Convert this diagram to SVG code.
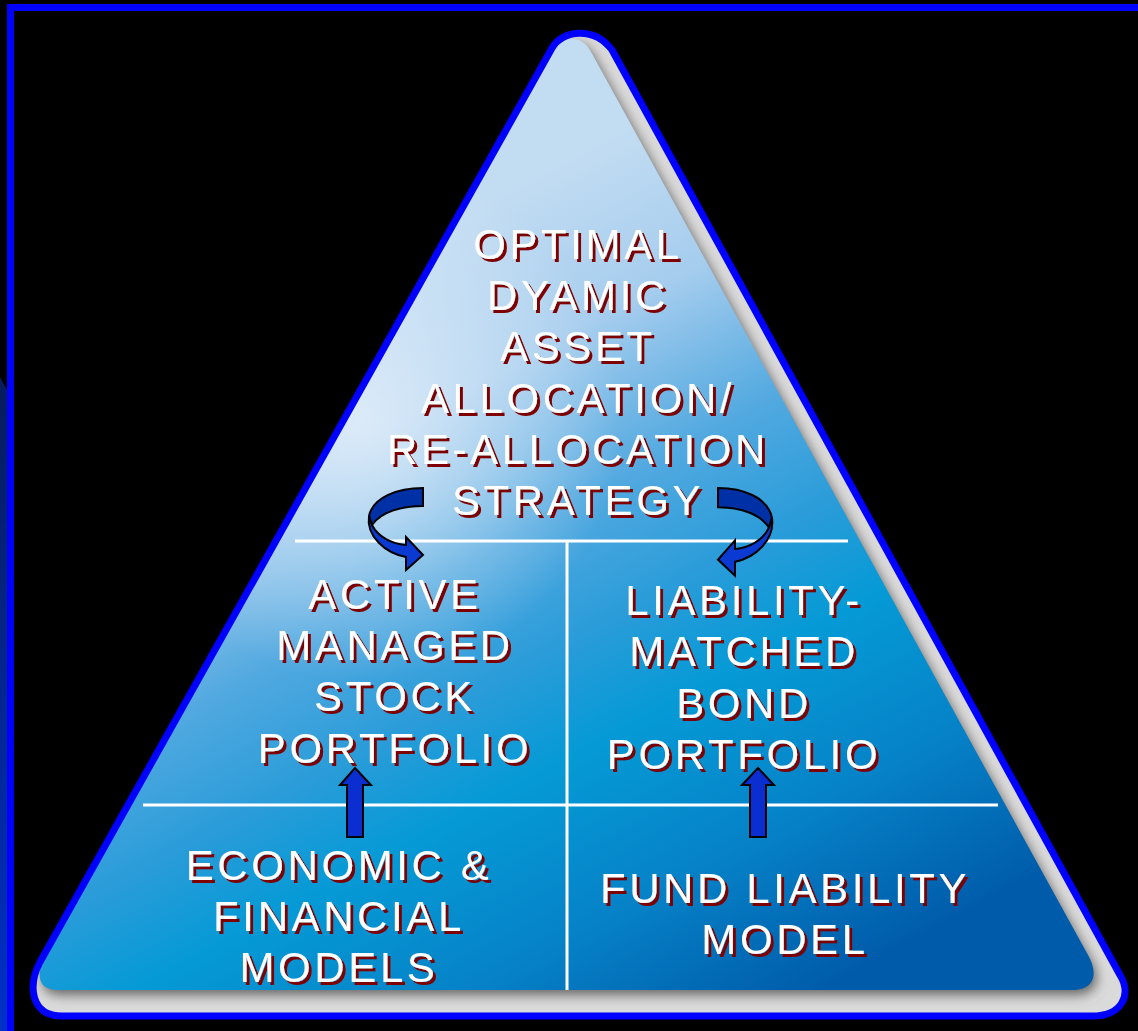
<svg xmlns="http://www.w3.org/2000/svg" width="1138" height="1031" viewBox="0 0 1138 1031">
  <defs>
    <style>
      .label { font-family: "Liberation Sans", Arial, sans-serif; font-size: 42px; letter-spacing: 3.6px; fill: #ffffff; text-anchor: middle; filter: url(#drop); }
      .divider { stroke: #ffffff; stroke-width: 3; fill: none; }
      .arrow { stroke: #000000; stroke-width: 2; stroke-linejoin: miter; }
    </style>
    <!-- dark red offset shadow behind the white lettering -->
    <filter id="drop" x="-10%" y="-20%" width="120%" height="150%">
      <feOffset in="SourceAlpha" dx="2.6" dy="2.6" result="off"/>
      <feFlood flood-color="#7e0000"/>
      <feComposite in2="off" operator="in" result="shadow"/>
      <feMerge>
        <feMergeNode in="shadow"/>
        <feMergeNode in="SourceGraphic"/>
      </feMerge>
    </filter>
    <filter id="soft" x="-5%" y="-5%" width="110%" height="110%">
      <feGaussianBlur stdDeviation="6"/>
    </filter>
    <linearGradient id="face" gradientUnits="userSpaceOnUse" x1="400" y1="250" x2="800" y2="1000">
      <stop offset="0" stop-color="#c2dcf2"/>
      <stop offset="0.18" stop-color="#a6cdee"/>
      <stop offset="0.36" stop-color="#52a9e0"/>
      <stop offset="0.5" stop-color="#2a9cd9"/>
      <stop offset="0.62" stop-color="#059ad6"/>
      <stop offset="0.8" stop-color="#0683c8"/>
      <stop offset="1" stop-color="#005cab"/>
    </linearGradient>
    <linearGradient id="edgeStrip" x1="0" y1="0" x2="0" y2="1">
      <stop offset="0" stop-color="#071c5c"/>
      <stop offset="1" stop-color="#0030c8"/>
    </linearGradient>
    <radialGradient id="glow" gradientUnits="userSpaceOnUse" cx="360" cy="420" r="260">
      <stop offset="0" stop-color="#e4effa" stop-opacity="0.85"/>
      <stop offset="1" stop-color="#e4effa" stop-opacity="0"/>
    </radialGradient>
    <!-- outer pyramid silhouette (bevel + outline) -->
    <path id="outer" d="M 552,48 C 562,30 594,26 612,50 L 1120,975 C 1132,995 1122,1016 1092,1016 L 62,1016 C 30,1016 28,985 40,962 Z"/>
    <!-- pyramid face -->
    <path id="face-shape" d="M 555,50 C 563,36 580,34 590,50 L 1088,955 C 1098,972 1096,990 1072,990 L 58,990 C 36,990 36,972 46,955 Z"/>
    <clipPath id="outerClip"><use href="#outer"/></clipPath>
    <clipPath id="faceClip"><use href="#face-shape"/></clipPath>
  </defs>

  <rect width="1138" height="1031" fill="#000000"/>

  <!-- slide frame -->
  <g id="frame">
    <polygon points="0,377 7,390 7,1031 0,1031" fill="url(#edgeStrip)"/>
    <rect x="7" y="4" width="1131" height="7" fill="#0000ff"/>
    <rect x="7" y="4" width="7" height="1027" fill="#0000ff"/>
  </g>

  <!-- pyramid body with grey bevel and blue rim -->
  <g id="pyramid">
    <use href="#outer" fill="#dadada"/>
    <g clip-path="url(#outerClip)">
      <use href="#face-shape" fill="#666666" filter="url(#soft)" transform="translate(3,5)"/>
    </g>
    <use href="#face-shape" fill="url(#face)"/>
    <g clip-path="url(#faceClip)">
      <rect x="0" y="0" width="1138" height="1031" fill="url(#glow)"/>
    </g>
    <use href="#outer" fill="none" stroke="#0000ff" stroke-width="7" stroke-linejoin="round"/>
  </g>

  <!-- tier dividers -->
  <g id="dividers">
    <line class="divider" x1="295" y1="541" x2="848" y2="541"/>
    <line class="divider" x1="143" y1="805" x2="998" y2="805"/>
    <line class="divider" x1="567" y1="541" x2="567" y2="990"/>
  </g>

  <g id="node-strategy">
    <text class="label" x="578" y="259">OPTIMAL</text>
    <text class="label" x="578" y="310">DYAMIC</text>
    <text class="label" x="578" y="361">ASSET</text>
    <text class="label" x="578" y="413">ALLOCATION/</text>
    <text class="label" x="578" y="464">RE-ALLOCATION</text>
    <text class="label" x="578" y="515">STRATEGY</text>
  </g>

  <g id="node-stock">
    <text class="label" x="395" y="609">ACTIVE</text>
    <text class="label" x="395" y="660">MANAGED</text>
    <text class="label" x="395" y="711">STOCK</text>
    <text class="label" x="395" y="763">PORTFOLIO</text>
  </g>

  <g id="node-bond">
    <text class="label" x="744" y="615">LIABILITY-</text>
    <text class="label" x="744" y="666">MATCHED</text>
    <text class="label" x="744" y="718">BOND</text>
    <text class="label" x="744" y="769">PORTFOLIO</text>
  </g>

  <g id="node-models">
    <text class="label" x="339" y="880">ECONOMIC &amp;</text>
    <text class="label" x="339" y="931">FINANCIAL</text>
    <text class="label" x="339" y="982">MODELS</text>
  </g>

  <g id="node-liability">
    <text class="label" x="785" y="903">FUND LIABILITY</text>
    <text class="label" x="785" y="954">MODEL</text>
  </g>

  <!-- connectors -->
  <g id="connectors">
    <g id="curve-left">
      <path class="arrow" fill="#0030a6" d="M 423,488 C 398,488 373,497 369,516 L 372,525 C 381,512 401,506 423,506 Z"/>
      <path class="arrow" fill="#0a3ad2" d="M 369,516 C 366,536 385,553 406,557 L 406,570 L 423,555 L 406,537 L 406,545 C 392,544 378,537 372,525 Z"/>
    </g>
    <g id="curve-right" transform="matrix(-1 0 0 1.07 1141 -34.2)">
      <path class="arrow" fill="#0030a6" d="M 423,488 C 398,488 373,497 369,516 L 372,525 C 381,512 401,506 423,506 Z"/>
      <path class="arrow" fill="#0a3ad2" d="M 369,516 C 366,536 385,553 406,557 L 406,570 L 423,555 L 406,537 L 406,545 C 392,544 378,537 372,525 Z"/>
    </g>
    <path id="up-left" class="arrow" fill="#0a2ed0" d="M 355,768 L 371,785 L 363,785 L 363,837 L 347,837 L 347,785 L 340,785 Z"/>
    <path id="up-right" class="arrow" fill="#0a2ed0" d="M 758,768 L 774,785 L 766,785 L 766,837 L 750,837 L 750,785 L 742,785 Z"/>
  </g>
</svg>
